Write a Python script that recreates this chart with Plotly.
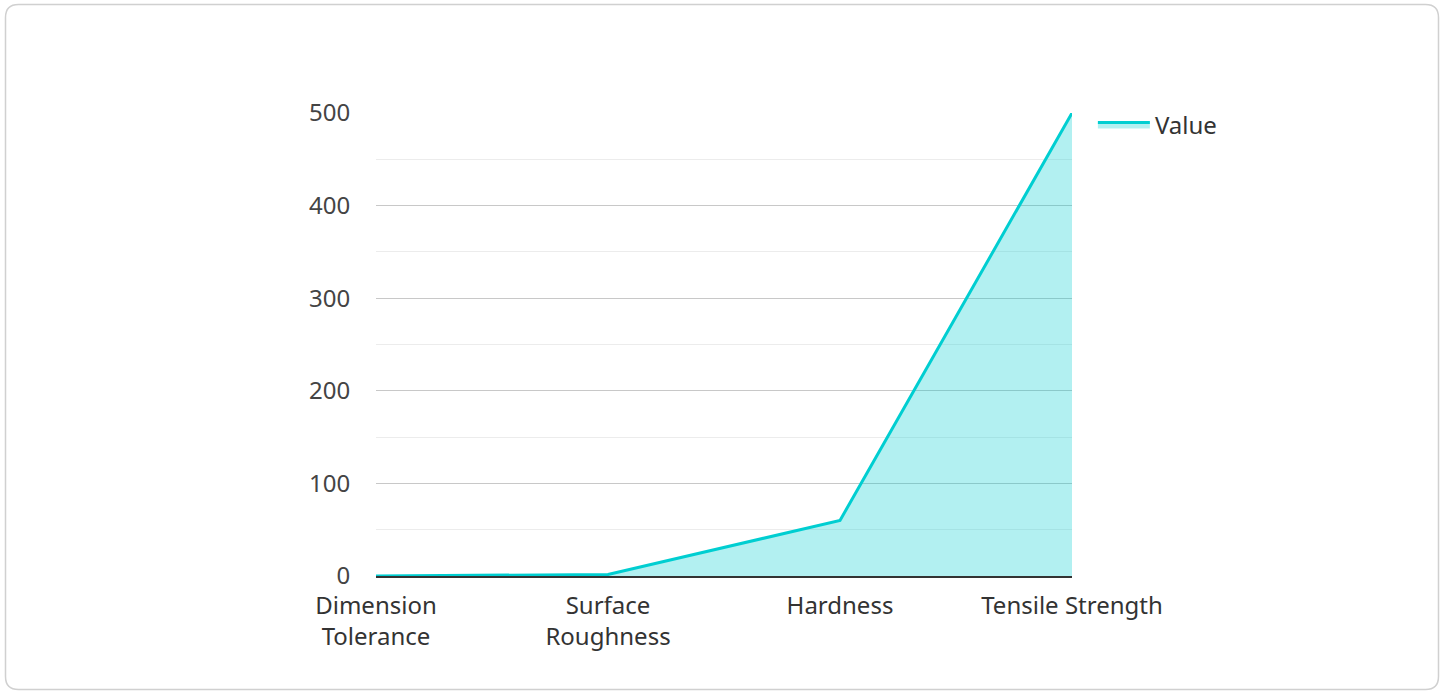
import plotly.graph_objects as go

categories = ["Dimension<br>Tolerance", "Surface<br>Roughness", "Hardness", "Tensile Strength"]
values = [0.05, 1.6, 60, 500]
y_ticks = [0, 100, 200, 300, 400, 500]
series_name = "Value"

W, H = 1445, 693
L, R, T, B = 376, 1072, 113, 576

fig = go.Figure()
fig.add_trace(go.Scatter(
    x=list(range(len(categories))), y=values, name=series_name,
    mode="lines", fill="tozeroy",
    line=dict(color="#00CED1", width=3),
    fillcolor="rgba(0,206,209,0.30)",
))

def px_x(p):
    return (p - L) / (R - L)

def px_y(p):
    return (B - p) / (B - T)

x0, x1, y0, y1, r = 5.5, 1438.5, 4.5, 689.5, 13
path = (f"M {px_x(x0 + r)},{px_y(y0)} L {px_x(x1 - r)},{px_y(y0)} "
        f"Q {px_x(x1)},{px_y(y0)} {px_x(x1)},{px_y(y0 + r)} "
        f"L {px_x(x1)},{px_y(y1 - r)} Q {px_x(x1)},{px_y(y1)} {px_x(x1 - r)},{px_y(y1)} "
        f"L {px_x(x0 + r)},{px_y(y1)} Q {px_x(x0)},{px_y(y1)} {px_x(x0)},{px_y(y1 - r)} "
        f"L {px_x(x0)},{px_y(y0 + r)} Q {px_x(x0)},{px_y(y0)} {px_x(x0 + r)},{px_y(y0)} Z")

fig.add_shape(type="path", path=path, xref="paper", yref="paper",
              line=dict(color="#d0d0d0", width=1.5), layer="below")

fig.update_layout(
    width=W, height=H,
    margin=dict(l=L, r=W - R, t=T, b=H - B, autoexpand=False),
    paper_bgcolor="white", plot_bgcolor="white",
    font=dict(family="Noto Sans", size=24, color="#333"),
    showlegend=True,
    legend=dict(x=1.03, y=px_y(125), xanchor="left", yanchor="middle",
                itemwidth=52,
                font=dict(size=24, color="#333"), bgcolor="rgba(0,0,0,0)"),
    xaxis=dict(
        range=[0, len(categories) - 1],
        tickmode="array", tickvals=list(range(len(categories))), ticktext=categories,
        showgrid=False, zeroline=False,
        showline=True, linecolor="#333", linewidth=1.5,
        ticks="outside", ticklen=7, tickcolor="rgba(0,0,0,0)",
        tickfont=dict(size=24, color="#333"),
    ),
    yaxis=dict(
        range=[0, 500], tickvals=y_ticks,
        showgrid=True, gridcolor="#c8c8c8", gridwidth=1,
        zeroline=False, showline=False,
        ticks="outside", ticklen=20, tickcolor="rgba(0,0,0,0)",
        tickfont=dict(size=24, color="#444"),
        minor=dict(dtick=50, showgrid=True, gridcolor="#ececec", gridwidth=1),
    ),
)

fig.write_html("out.html", config={"displayModeBar": False},
               post_script="document.body.style.margin='0';document.body.style.overflow='hidden';")
